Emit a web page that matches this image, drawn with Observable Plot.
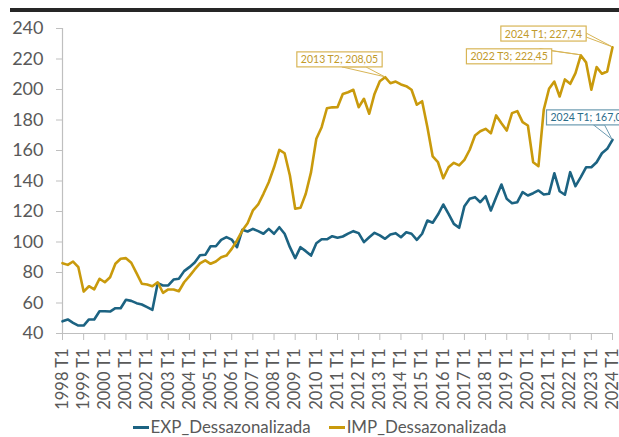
<!DOCTYPE html>
<html><head><meta charset="utf-8">
<script src="https://cdn.jsdelivr.net/npm/d3@7"></script>
<script src="https://cdn.jsdelivr.net/npm/@observablehq/plot@0.6"></script>
<style>
body{margin:0;background:#fff;font-family:Lato,sans-serif;}
#wrap{position:relative;width:619px;height:437px;overflow:hidden;background:#fff;}
#rule{position:absolute;left:10px;right:0;top:8px;height:4px;background:#262626;}
#chart{position:absolute;left:0;top:0;}
#legend{position:absolute;top:417px;left:0;width:619px;box-sizing:border-box;padding-left:20px;display:flex;justify-content:center;gap:18px;font-size:16.9px;color:#595959;line-height:20px;}
.li{display:flex;align-items:center;}
.sw{width:16px;height:3px;margin-right:2px;}
</style></head><body>
<div id="wrap"><div id="rule"></div><div id="chart"></div><div id="legend"></div></div>
<script>
const seriesNames = ["EXP_Dessazonalizada", "IMP_Dessazonalizada"];
const tickLabels = ["1998 T1","1999 T1","2000 T1","2001 T1","2002 T1","2003 T1","2004 T1","2005 T1","2006 T1","2007 T1","2008 T1","2009 T1","2010 T1","2011 T1","2012 T1","2013 T1","2014 T1","2015 T1","2016 T1","2017 T1","2018 T1","2019 T1","2020 T1","2021 T1","2022 T1","2023 T1","2024 T1"];
const yTicks = [40,60,80,100,120,140,160,180,200,220,240];
const exp = [48,49.2,47,45.2,45.2,49.2,49.2,54.6,54.6,54.4,
  56.6,56.6,62.1,61.4,59.9,59,57.3,55.5,73,71.5,
  71.5,75.4,75.9,80.9,83.5,86.5,91.3,91.6,97.2,97.2,
  101.4,103.2,101.6,96.6,108,106.9,108.6,107.1,105.4,108.6,
  105.4,109.7,105.4,96.6,89.4,96.6,94,91.1,99.2,101.8,
  101.8,103.8,102.8,103.6,105.5,107.1,105.8,99.9,103.1,106,
  104.3,102.1,104.9,105.8,103.1,106.4,105.4,101.4,105.4,114.1,
  112.6,118,124.6,118.5,111.9,109.3,123.5,128.3,129.4,126.1,
  130,120.7,129.4,137.7,128.3,125.4,126.1,132.7,130.5,132,
  133.8,131.1,131.6,145.1,133.3,131,145.8,136.6,142.5,149,
  149,152.3,158.2,161.1,167.0];
const imp = [86.1,85,87.2,83.5,67.5,71,68.9,75.9,73.6,76.9,
  85.7,89,89.4,86.4,79.6,72.6,72.1,71,73.6,66.7,
  68.9,68.9,67.7,73.6,77.6,82,86,88,85.7,87.2,
  90,91.1,95.5,101,107.5,112.3,120.7,124.6,131.6,139.2,
  149,160.4,158.2,143.6,121.8,122.4,131.6,145.8,167.7,175.3,
  187.7,188.3,188.4,197,198.2,199.8,188.4,193.9,184.1,197.1,
  205.4,208.05,204.1,205.2,203.3,202.2,199.8,190,192.3,175.3,
  156.1,152.3,141.8,149,151.9,150.2,153.9,160.5,169.8,172.6,
  174.2,171.3,183,177.9,173.1,184.5,185.8,178.6,176.4,152.3,
  149.7,186.7,200.5,205.2,195.4,206.6,203.7,210.7,222.45,217.8,
  199.8,214.7,210.3,211.8,227.74];
const annotations = [
  {series: 1, i: 61, label: "2013 T2; 208,05"},
  {series: 1, i: 98, label: "2022 T3; 222,45"},
  {series: 1, i: 104, label: "2024 T1; 227,74"},
  {series: 0, i: 104, label: "2024 T1; 167,0"}
];
// style of annotations (offsets in px)
const annStyle = [
  {dx: -45.6, dy: -17.2, anchor: "middle", wedge: [[45, 1], [69, 1]], wedgeEdge: "bottom"},
  {dx: -71.7, dy: 1.7, anchor: "middle", wedge: [[-12, 0], [0, 2]], wedgeEdge: "tr"},
  {dx: -69, dy: -13, anchor: "middle", wedge: [[0, 7], [0, 11]], wedgeEdge: "right"},
  {dx: -62, dy: -21.8, anchor: "start", wedge: [[47, 1], [58, 1]], wedgeEdge: "bottom"}
];
const colors = ["#1c6382", "#c99a0c"];
const annText = ["#2b6d8a", "#c29a2a"];
const annBorder = ["#6c9bb1", "#d8b556"];

const rows = exp.map((e, k) => ({i: k, exp: e, imp: imp[k]}));
const tickIdx = tickLabels.map((_, k) => k * 4);

const textMarks = annotations.map((a, k) => Plot.text([a], {
  x: "i", y: d => (d.series === 0 ? exp : imp)[d.i], text: "label",
  dx: annStyle[k].dx, dy: annStyle[k].dy, textAnchor: annStyle[k].anchor,
  fill: annText[a.series], fontSize: 10.5, className: "ann" + k
}));

const chart = Plot.plot({
  width: 619, height: 415,
  marginLeft: 62, marginRight: 7, marginTop: 28, marginBottom: 82,
  style: {fontFamily: "Lato, sans-serif", background: "transparent", overflow: "visible"},
  x: {domain: [0, 104], axis: null, label: null},
  y: {domain: [40, 240], axis: null, label: null},
  marks: [
    Plot.ruleY([40], {stroke: "#bfbfbf", strokeWidth: 1.2}),
    Plot.ruleX([0], {stroke: "#bfbfbf", strokeWidth: 1.2}),
    Plot.axisY({ticks: yTicks, label: null, tickSize: 6, tickPadding: 13, fontSize: 18, stroke: "#bfbfbf", fill: "#595959", tickFormat: d => String(d)}),
    Plot.axisX({ticks: tickIdx, label: null, tickFormat: d => tickLabels[d / 4], tickRotate: -90, tickSize: 7, tickPadding: 8, fontSize: 16.5, stroke: "#bfbfbf", fill: "#595959"}),
    Plot.line(rows, {x: "i", y: "exp", stroke: colors[0], strokeWidth: 2.6, strokeLinejoin: "round"}),
    Plot.line(rows, {x: "i", y: "imp", stroke: colors[1], strokeWidth: 2.6, strokeLinejoin: "round"}),
    ...textMarks
  ]
});
document.getElementById("chart").appendChild(chart);

// boxes and callout wedges around the annotation texts (drawn inside each text group)
const sx = chart.scale("x"), sy = chart.scale("y");
const svg = d3.select(chart);
annotations.forEach((a, k) => {
  const gNode = svg.select("g.ann" + k).node();
  const t = gNode.querySelector("text");
  const bb = t.getBBox();
  // offset of the group (dx/dy translate) -> local coordinates
  const gtr = gNode.transform && gNode.transform.baseVal.consolidate();
  const gx = gtr ? gtr.matrix.e : 0, gy = gtr ? gtr.matrix.f : 0;
  const ttr = t.transform && t.transform.baseVal.consolidate();
  const tx = ttr ? ttr.matrix.e : 0, ty = ttr ? ttr.matrix.f : 0;
  const bx = bb.x + tx - 4, by = bb.y + ty - 1.5, bw = bb.width + 8, bh = bb.height + 3;
  const px = sx.apply(a.i) - gx, py = sy.apply((a.series === 0 ? exp : imp)[a.i]) - gy;
  const st = annStyle[k];
  let p1, p2;
  if (st.wedgeEdge === "bottom") { p1 = [bx + st.wedge[0][0], by + bh]; p2 = [bx + st.wedge[1][0], by + bh]; }
  else if (st.wedgeEdge === "right") { p1 = [bx + bw, by + st.wedge[0][1]]; p2 = [bx + bw, by + st.wedge[1][1]]; }
  else { p1 = [bx + bw + st.wedge[0][0], by]; p2 = [bx + bw, by + st.wedge[1][1]]; }
  const g = d3.select(gNode);
  g.insert("polygon", "text").attr("points", [p1, [px, py], p2].map(p => p.join(",")).join(" "))
    .attr("fill", "#fff").attr("stroke", annBorder[a.series]).attr("stroke-width", 1);
  g.insert("rect", "text").attr("x", bx).attr("y", by).attr("width", bw).attr("height", bh)
    .attr("fill", "#fff").attr("stroke", annBorder[a.series]).attr("stroke-width", 1.2);
});

// legend
const leg = d3.select("#legend");
seriesNames.forEach((n, k) => {
  const it = leg.append("div").attr("class", "li");
  it.append("div").attr("class", "sw").style("background", colors[k]);
  it.append("span").text(n);
});
</script>
</body></html>
